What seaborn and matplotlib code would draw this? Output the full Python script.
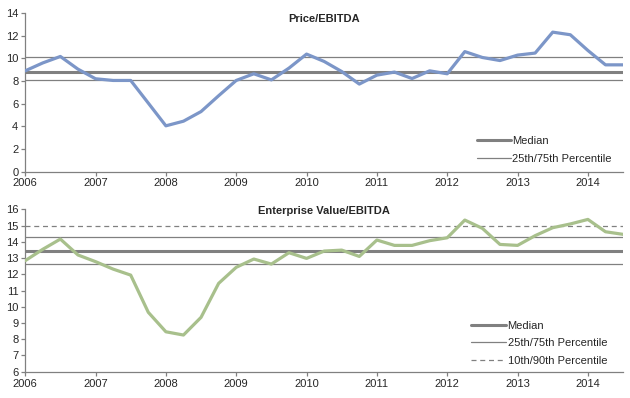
# Valuation multiples: Price/EBITDA and EV/EBITDA, quarterly 2006-2014
import numpy as np
import pandas as pd
import matplotlib
matplotlib.use("Agg")
import matplotlib.pyplot as plt
import seaborn as sns

# ── Data ─────────────────────────────────────────────────────────────────────
quarters = np.arange(2006.0, 2014.51, 0.25)

price_ebitda = [8.9, 9.6, 10.17, 9.05, 8.2, 8.05, 8.05, 6.05, 4.04, 4.45, 5.3, 6.7,
                8.05, 8.64, 8.1, 9.14, 10.38, 9.73, 8.84, 7.73, 8.52, 8.79, 8.22, 8.9,
                8.64, 10.6, 10.08, 9.81, 10.29, 10.47, 12.32, 12.09, 10.7, 9.43, 9.43]
price_median = 8.84
price_p25, price_p75 = 8.08, 10.11

ev_ebitda = [12.84, 13.54, 14.17, 13.19, 12.78, 12.32, 11.95, 9.66, 8.46, 8.26, 9.35, 11.44,
             12.43, 12.94, 12.63, 13.33, 12.98, 13.43, 13.49, 13.1, 14.11, 13.78, 13.78, 14.07,
             14.25, 15.34, 14.83, 13.84, 13.78, 14.38, 14.87, 15.1, 15.38, 14.62, 14.46]
ev_median = 13.45
ev_p25, ev_p75 = 12.61, 14.28
ev_p90 = 14.97

years = list(range(2006, 2015))

df = pd.DataFrame({"quarter": quarters, "price": price_ebitda, "ev": ev_ebitda})

# ── Style ────────────────────────────────────────────────────────────────────
sns.set_style("white")
plt.rcParams["font.family"] = ["Liberation Sans", "DejaVu Sans"]
plt.rcParams["font.size"] = 8

GRAY = "#808080"
BLUE = "#7C96C8"
GREEN = "#A8C08C"

fig = plt.figure(figsize=(6.3, 3.98), dpi=100)
ax1 = fig.add_axes([0.040, 0.569, 0.949, 0.398])
ax2 = fig.add_axes([0.040, 0.066, 0.949, 0.408])


def style_axis(ax, ylim, yticks):
    ax.set_xlim(2006, 2014.5)
    ax.set_ylim(*ylim)
    ax.set_xticks(years)
    ax.set_xticklabels([str(y) for y in years])
    ax.set_yticks(yticks)
    for side in ["top", "right"]:
        ax.spines[side].set_visible(False)
    for side in ["left", "bottom"]:
        ax.spines[side].set_color(GRAY)
        ax.spines[side].set_linewidth(0.9)
    ax.tick_params(axis="both", direction="out", length=3, width=0.9,
                   color=GRAY, labelsize=8, pad=2, left=True, bottom=True)
    ax.set_xlabel("")
    ax.set_ylabel("")


# ── Top: Price/EBITDA ───────────────────────────────────────────────────────
ax1.axhline(price_median, color=GRAY, lw=2.2, label="Median", zorder=1)
ax1.axhline(price_p75, color=GRAY, lw=0.9, label="25th/75th Percentile", zorder=1)
ax1.axhline(price_p25, color=GRAY, lw=0.9, zorder=1)
sns.lineplot(data=df, x="quarter", y="price", ax=ax1, color=BLUE, lw=2.3,
             legend=False, zorder=3)
style_axis(ax1, (0, 14), range(0, 15, 2))
ax1.text(0.5, 0.965, "Price/EBITDA", transform=ax1.transAxes, ha="center",
         va="center", fontsize=8, fontweight="bold")
ax1.legend(loc="lower right", bbox_to_anchor=(0.997, -0.015), frameon=False,
           fontsize=8, handlelength=3.0, handletextpad=0.1, labelspacing=0.75)

# ── Bottom: Enterprise Value/EBITDA ─────────────────────────────────────────
ax2.axhline(ev_median, color=GRAY, lw=2.2, label="Median", zorder=1)
ax2.axhline(ev_p75, color=GRAY, lw=0.9, label="25th/75th Percentile", zorder=1)
ax2.axhline(ev_p25, color=GRAY, lw=0.9, zorder=1)
ax2.axhline(ev_p90, color=GRAY, lw=0.9, ls=(0, (4, 3)),
            label="10th/90th Percentile", zorder=1)
sns.lineplot(data=df, x="quarter", y="ev", ax=ax2, color=GREEN, lw=2.3,
             legend=False, zorder=3)
style_axis(ax2, (6, 16), range(6, 17, 1))
ax2.text(0.5, 0.99, "Enterprise Value/EBITDA", transform=ax2.transAxes,
         ha="center", va="center", fontsize=8, fontweight="bold")
ax2.legend(loc="lower right", bbox_to_anchor=(0.99, -0.025), frameon=False,
           fontsize=8, handlelength=3.2, handletextpad=0.1, labelspacing=0.68)

fig.savefig("out.png", dpi=100)
plt.close(fig)
